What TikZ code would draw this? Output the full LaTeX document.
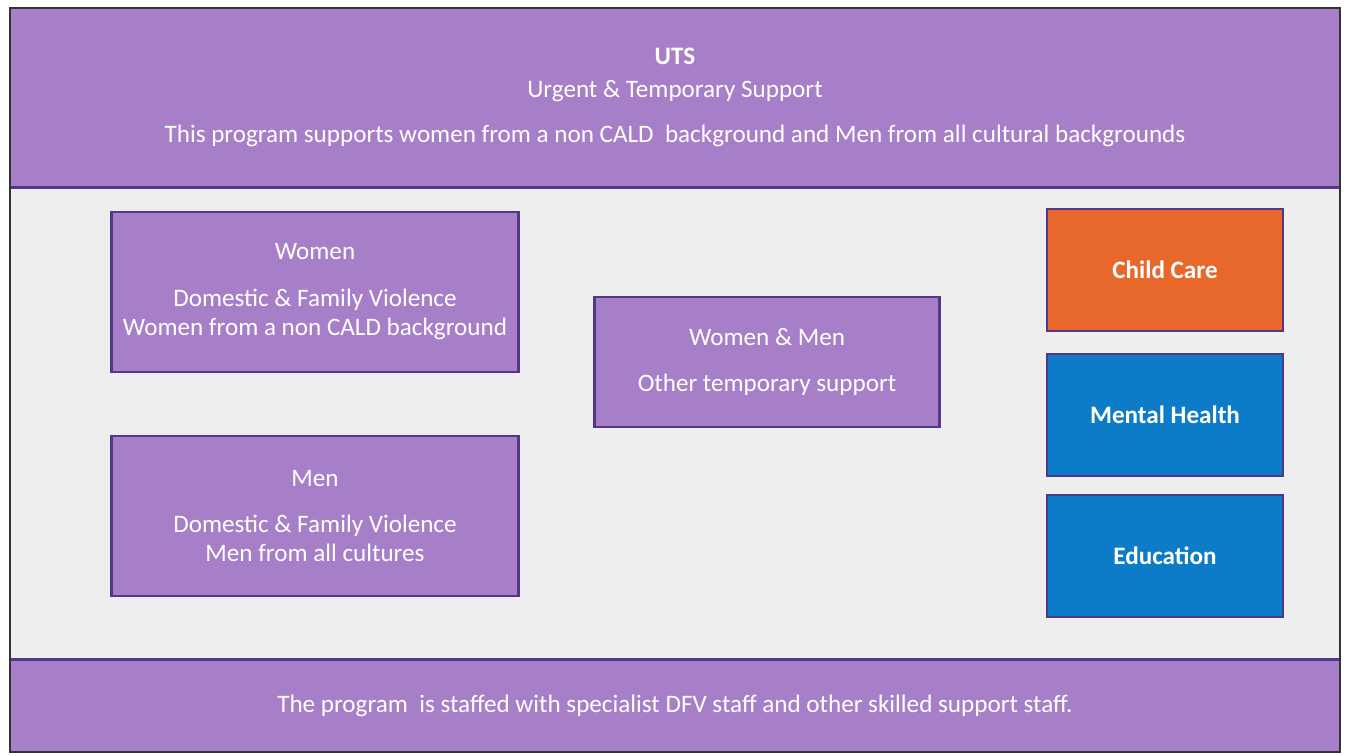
\documentclass[tikz,border=0pt]{standalone}
\usepackage{fontspec}
\setmainfont{Carlito}
\usepackage{xcolor}
\usepackage{tikz}
\usetikzlibrary{positioning}

\definecolor{utspurple}{RGB}{167,127,200}
\definecolor{utsline}{RGB}{82,56,138}
\definecolor{utsorange}{RGB}{232,104,44}
\definecolor{utsblue}{RGB}{12,124,200}
\definecolor{utsgrey}{RGB}{238,238,238}

\begin{document}
\begin{tikzpicture}[
    x=0.02cm, y=-0.02cm,
    font=\fontsize{14.3}{16.6}\selectfont,
    banner/.style={rectangle, minimum width=26.6cm, text centered, align=center, text=white, fill=utspurple, inner sep=0pt},
    group/.style={rectangle, minimum width=8.14cm, minimum height=3.2cm, align=center, text=white, draw=utsline, line width=1.2pt, fill=utspurple},
    service/.style={rectangle, minimum width=4.72cm, minimum height=2.44cm, align=center, text=white, draw=utsline, line width=1.2pt, font=\fontsize{14.3}{16.6}\selectfont\bfseries},
    rule/.style={utsline, line width=2pt}
]

\useasboundingbox (0,0) rectangle (1348,755);
\fill[white] (0,0) rectangle (1348,755);

% frame and bands
\fill[utsgrey] (10,187) rectangle (1340,660);
\node (top) [banner, minimum height=3.58cm] at (675,97.5) {{\bfseries UTS}\\[2.6pt] Urgent \& Temporary Support\\[9pt] This program supports women from a non CALD\ \ background and Men from all cultural backgrounds};
\node (bottom) [banner, minimum height=1.84cm] at (675,706) {\raisebox{-7pt}{The program\ \ is staffed with specialist DFV staff and other skilled support staff.}};
\draw[rule] (top.south west) -- (top.south east);
\draw[rule] (bottom.north west) -- (bottom.north east);
\draw[black!80, line width=0.8pt] (10,8) rectangle (1340,752);

% groups
\node (women) [group] at (315,292) {Women\\[10pt] Domestic \& Family Violence\\ Women from a non CALD background};
\node (men) [group, below=1.24cm of women] {Men\\[10pt] Domestic \& Family Violence\\ Men from all cultures};
\node (both) [group, minimum width=6.9cm, minimum height=2.6cm] at (767,362) {Women \& Men\\[10pt] Other temporary support};

% services
\node (care) [service, fill=utsorange] at (1165,270) {Child Care};
\node (mental) [service, fill=utsblue, below=0.42cm of care] {Mental Health};
\node (edu) [service, fill=utsblue, below=0.34cm of mental] {Education};

\end{tikzpicture}
\end{document}
